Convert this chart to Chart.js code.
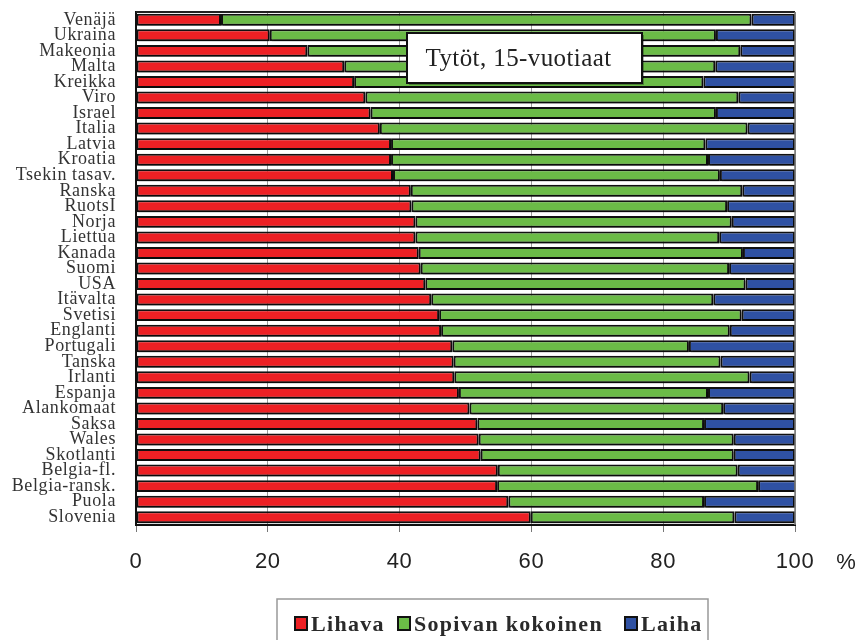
<!DOCTYPE html>
<html lang="fi">
<head>
<meta charset="utf-8">
<title>Tytöt, 15-vuotiaat</title>
<script src="https://cdn.jsdelivr.net/npm/chart.js@4.4.1/dist/chart.umd.min.js"></script>
<style>
  html, body { margin: 0; padding: 0; background: #ffffff; }
  #wrap { width: 860px; height: 640px; }
</style>
</head>
<body>
<div id="wrap"><canvas id="chart" width="860" height="640"></canvas></div>
<script>
// Maat (ylhäältä alas)
const categories = [
  'Venäjä', 'Ukraina', 'Makeonia', 'Malta', 'Kreikka', 'Viro', 'Israel', 'Italia',
  'Latvia', 'Kroatia', 'Tsekin tasav.', 'Ranska', 'RuotsI', 'Norja', 'Liettua',
  'Kanada', 'Suomi', 'USA', 'Itävalta', 'Svetisi', 'Englanti', 'Portugali',
  'Tanska', 'Irlanti', 'Espanja', 'Alankomaat', 'Saksa', 'Wales', 'Skotlanti',
  'Belgia-fl.', 'Belgia-ransk.', 'Puola', 'Slovenia'
];

// Osuudet (%)
const lihava = [
  12.9, 20.3, 26.0, 31.6, 33.1, 34.8, 35.6, 37.0, 38.7, 38.7, 39.0, 41.7, 41.8,
  42.4, 42.4, 42.9, 43.2, 43.9, 44.8, 46.0, 46.3, 48.0, 48.2, 48.3, 49.0, 50.6,
  51.8, 52.0, 52.3, 54.9, 54.8, 56.5, 59.9
];
const sopiva = [
  80.5, 67.7, 65.7, 56.3, 53.0, 56.6, 52.4, 55.8, 47.7, 48.1, 49.6, 50.3, 47.9,
  48.0, 46.1, 49.2, 46.8, 48.6, 42.8, 45.9, 43.8, 35.9, 40.5, 44.8, 37.8, 38.5,
  34.4, 38.7, 38.4, 36.4, 39.6, 29.7, 30.9
];
const laiha = [
  6.6, 12.0, 8.3, 12.1, 14.0, 8.6, 12.0, 7.2, 13.6, 13.2, 11.4, 8.0, 10.3,
  9.6, 11.5, 7.9, 10.0, 7.5, 12.4, 8.1, 9.9, 16.1, 11.3, 6.9, 13.2, 10.9,
  13.8, 9.3, 9.3, 8.7, 5.8, 13.8, 9.2
];

const seriesNames = ['Lihava', 'Sopivan kokoinen', 'Laiha'];
const seriesColors = ['#ED2024', '#6BBB47', '#2F51A3'];
const chartTitle = 'Tytöt, 15-vuotiaat';
const unitLabel = '%';

const SERIF = '"Liberation Serif", "DejaVu Serif", serif';
const SANS = '"Liberation Sans", Arial, sans-serif';

function bar(label, data, color) {
  return {
    label, data,
    backgroundColor: color,
    borderColor: '#111111',
    borderWidth: 2,
    borderSkipped: false,
    barPercentage: 0.77,
    categoryPercentage: 1.0
  };
}

// Slightly wider lettering for the axis labels
const letterSpacingPlugin = {
  id: 'letterSpacing',
  beforeDraw(chart) { chart.ctx.letterSpacing = '0.6px'; },
  beforeDatasetsDraw(chart) { chart.ctx.letterSpacing = '0px'; }
};

// Soft grey drop shadow under the bars
const barShadowPlugin = {
  id: 'barShadow',
  beforeDatasetsDraw(chart) {
    const ctx = chart.ctx;
    ctx.save();
    ctx.shadowColor = 'rgba(0,0,0,0.35)';
    ctx.shadowOffsetX = 2;
    ctx.shadowOffsetY = 3;
    ctx.shadowBlur = 0;
  },
  afterDatasetsDraw(chart) { chart.ctx.restore(); }
};

// Frame, title box, unit sign and legend box
const decorPlugin = {
  id: 'decor',
  afterDraw(chart) {
    const ctx = chart.ctx;
    const a = chart.chartArea;
    ctx.save();

    // top and right edges of the plot frame
    ctx.strokeStyle = '#222';
    ctx.lineWidth = 2;
    ctx.beginPath();
    ctx.moveTo(a.left, a.top);
    ctx.lineTo(a.right, a.top);
    ctx.stroke();
    ctx.strokeStyle = '#777';
    ctx.lineWidth = 1.5;
    ctx.beginPath();
    ctx.moveTo(a.right, a.top);
    ctx.lineTo(a.right, a.bottom);
    ctx.stroke();

    // title box
    const bx = 407, by = 33, bw = 235, bh = 50;
    ctx.save();
    ctx.shadowColor = 'rgba(0,0,0,0.3)';
    ctx.shadowOffsetX = 2;
    ctx.shadowOffsetY = 2;
    ctx.fillStyle = '#ffffff';
    ctx.fillRect(bx, by, bw, bh);
    ctx.restore();
    ctx.strokeStyle = '#111';
    ctx.lineWidth = 2;
    ctx.strokeRect(bx, by, bw, bh);
    ctx.fillStyle = '#222';
    ctx.font = '25px ' + SERIF;
    ctx.textAlign = 'center';
    ctx.textBaseline = 'middle';
    ctx.letterSpacing = '0.4px';
    ctx.fillText(chartTitle, bx + bw / 2 - 6, by + bh / 2 + 1);

    // unit sign after the last tick label
    ctx.letterSpacing = '0px';
    ctx.font = '22px ' + SANS;
    ctx.fillStyle = '#222';
    ctx.fillText(unitLabel, 846, 563);

    // legend
    const lx = 277, ly = 599, lw = 431, lh = 60;
    ctx.strokeStyle = '#999';
    ctx.lineWidth = 1.5;
    ctx.strokeRect(lx, ly, lw, lh);
    const itemX = [295, 398, 625];
    ctx.font = 'bold 22px ' + SERIF;
    ctx.textAlign = 'left';
    ctx.textBaseline = 'alphabetic';
    ctx.letterSpacing = '1.3px';
    chart.data.datasets.forEach((ds, i) => {
      const x = itemX[i];
      ctx.fillStyle = ds.backgroundColor;
      ctx.fillRect(x, 617, 12, 13);
      ctx.strokeStyle = '#111';
      ctx.lineWidth = 2;
      ctx.strokeRect(x, 617, 12, 13);
      ctx.fillStyle = '#2a2a2a';
      ctx.fillText(ds.label, x + 16, 631);
    });
    ctx.restore();
  }
};

new Chart(document.getElementById('chart'), {
  type: 'bar',
  data: {
    labels: categories,
    datasets: [
      bar(seriesNames[0], lihava, seriesColors[0]),
      bar(seriesNames[1], sopiva, seriesColors[1]),
      bar(seriesNames[2], laiha, seriesColors[2])
    ]
  },
  options: {
    indexAxis: 'y',
    responsive: false,
    animation: false,
    devicePixelRatio: 1,
    layout: { padding: { top: 12, right: 65, left: 0, bottom: 0 } },
    plugins: {
      legend: { display: false },
      tooltip: { enabled: false },
      title: { display: false }
    },
    scales: {
      x: {
        stacked: true,
        min: 0,
        max: 100,
        ticks: {
          stepSize: 20,
          color: '#222',
          font: { family: SANS, size: 22 },
          padding: 17
        },
        grid: {
          color: '#9a9a9a',
          lineWidth: 1,
          drawTicks: true,
          tickLength: 7,
          tickColor: '#777'
        },
        border: { display: true, color: '#111', width: 2 },
        afterFit(scale) { scale.height = 115; }
      },
      y: {
        stacked: true,
        ticks: {
          color: '#333',
          font: { family: SERIF, size: 18 },
          padding: 12,
          autoSkip: false
        },
        grid: { display: false },
        border: { display: true, color: '#111', width: 2 },
        afterFit(scale) {
          scale.width = 136;
          // labels sit beside their bars, so no extra room above/below the plot
          scale.paddingTop = 0;
          scale.paddingBottom = 0;
        }
      }
    }
  },
  plugins: [letterSpacingPlugin, barShadowPlugin, decorPlugin]
});
</script>
</body>
</html>
